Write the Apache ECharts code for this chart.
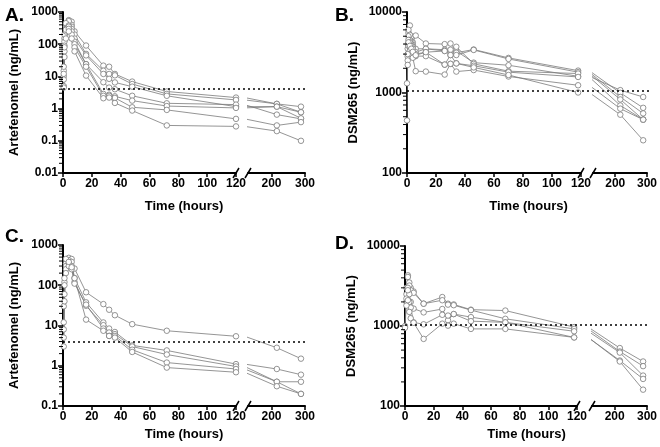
<!DOCTYPE html>
<html>
<head>
<meta charset="utf-8">
<script src="https://cdn.jsdelivr.net/npm/echarts@6.0.0/dist/echarts.min.js"></script>
<style>
html,body{margin:0;padding:0;background:#fff;}
#chart{width:660px;height:447px;}
</style>
</head>
<body>
<div id="chart"></div>
<script>
// sampling times (hours)
var timesA = [0.5, 1, 2, 4, 6, 8, 16, 28, 32, 36, 48, 72, 120, 216, 288];
var timesC = [0.5, 1, 2, 4, 6, 8, 16, 28, 32, 36, 48, 72, 120, 216, 288];
var timesB = [0, 0.5, 1, 2, 3, 4, 6, 13, 26, 30, 34, 46, 70, 118, 216, 288];
var timesD = [0, 1, 2, 3, 4, 6, 13, 26, 30, 34, 46, 70, 118, 216, 288];

// A. artefenomel, one row per subject (ng/mL)
var artA = [
  [15, 150, 420, 560, 500, 250, 91, 21.6, 20, 11.9, 6.9, 3.4, 2.2, 1.4, 1.15],
  [10, 120, 350, 480, 400, 200, 50, 15, 11.9, 10.8, 5.8, 2.86, 1.86, 1.4, 0.77],
  [5, 90, 300, 520, 350, 150, 45, 11.9, 8.4, 6.5, 4.8, 2.5, 1.15, 1.15, 0.77],
  [20, 200, 450, 380, 300, 120, 24, 6.6, 4.5, 4.0, 2.5, 1.46, 1.33, 0.65, 0.48],
  [8, 60, 250, 350, 250, 100, 24, 2.86, 2.7, 2.4, 1.77, 1.2, 1.05, 1.15, 0.5],
  [12, 80, 280, 300, 200, 80, 20, 2.5, 2.5, 2.15, 1.1, 0.91, 0.48, 0.3, 0.38],
  [4.5, 40, 150, 250, 150, 60, 10.6, 2.1, 2.2, 1.5, 0.87, 0.3, 0.28, 0.2, 0.1]
];
// B. DSM265
var dsmB = [
  [450, 3000, 5500, 6800, 5000, 4200, 5100, 4060, 3990, 4060, 3280, 2350, 2180, 1590, 1070, 880],
  [1300, 4000, 6000, 5200, 4300, 3900, 3490, 3490, 3400, 3220, 3120, 3420, 2690, 1870, 990, 645],
  [null, 3500, 5000, 4500, 4000, 3700, 3170, 3490, 3280, 2920, 2920, 3380, 2610, 1790, 880, 550],
  [null, 2800, 4500, 4200, 3800, 3500, 3000, 3170, 3280, 3400, 3700, 2270, 1840, 1720, 820, 460],
  [null, 2500, 4000, 3600, 3300, 3100, 2830, 2830, 2220, 2270, 2300, 2150, 1790, 1560, 690, 460],
  [null, 2200, 3800, 3300, 3000, 2700, 1840, 1820, 1670, 2270, 1820, 1900, 1580, 1230, 630, 460],
  [null, 3000, 4200, 3800, 3500, 3200, 2900, 3170, 2220, 2920, 2300, 2050, 1650, 1000, 530, 255]
];
// C. artefenomel
var artC = [
  [30, 120, 350, 480, 450, 260, 67, 34, 24.6, 18, 10.8, 7.4, 5.4, 2.8, 1.5],
  [8, 100, 300, 420, 380, 150, 37.6, 11.9, 8.4, 6.9, 3.2, 2.4, 1.1, 0.83, 0.6],
  [5, 60, 250, 350, 300, 120, 31, 10.2, 6.7, 6.1, 3.0, 1.9, 0.96, 0.4, 0.4],
  [3, 40, 200, 300, 250, 110, 33, 8.4, 5.5, 5.5, 2.5, 1.2, 0.83, 0.4, 0.2],
  [12, 150, 450, 380, 280, 150, 14, 7.4, 5.5, 5.0, 2.2, 0.9, 0.69, 0.31, 0.2]
];
// D. DSM265
var dsmD = [
  [1000, 3000, 4300, 3500, 3000, 2700, 1900, 2300, 1900, 1860, 1600, 1560, 970, 530, 360],
  [null, 2500, 4100, 3200, 2800, 2600, 1900, 2100, 1850, 1820, 1580, 1230, 920, 480, 315],
  [950, 2000, 3000, 2500, 2000, 1650, 1480, 1630, 1180, 1410, 1290, 1110, 860, 465, 240],
  [null, 2200, 2800, 2000, 1700, 1110, 1050, 1380, 1350, 1410, 1150, 1110, 720, 370, 218],
  [null, 1800, 2100, 1500, 1250, 1100, 690, 1070, 1010, 1070, 920, 920, 720, 360, 160]
];

var xTicks1 = [0, 20, 40, 60, 80, 100, 120];
var xTicks2 = [200, 300];
var lloqArt = 4;     // dotted reference line
var lloqDsm = 1050;

var FONT = '"Liberation Sans", Arial, sans-serif';
var GREY = '#7a7a7a';

var option = {
  animation: false,
  backgroundColor: '#fff',
  title: [], grid: [], xAxis: [], yAxis: [], series: [], graphic: []
};

function addPanel(p, times, rows) {
  var g = option.grid.length;
  option.grid.push({left: p.left1, top: p.top, width: p.w1, height: p.h});
  option.grid.push({left: p.left2, top: p.top, width: p.w2, height: p.h});
  option.grid.push({left: p.left1, top: p.top, width: p.left2 + p.w2 - p.left1, height: p.h});

  var axLine = {show: true, lineStyle: {color: '#000', width: 2}};
  var axTick = {show: true, length: 4, lineStyle: {color: '#000', width: 1.5}};
  var axLab = {color: '#000', fontSize: 12, fontWeight: 'bold', fontFamily: FONT, margin: 5};

  option.xAxis.push({gridIndex: g, type: 'value', min: 0, max: 120, interval: 20,
    axisLine: axLine, axisTick: axTick, axisLabel: axLab, splitLine: {show: false}});
  option.xAxis.push({gridIndex: g + 1, type: 'value', min: 130, max: 300,
    axisLine: axLine,
    axisTick: {show: true, length: 4, lineStyle: {color: '#000', width: 1.5}, customValues: xTicks2},
    axisLabel: Object.assign({customValues: xTicks2}, axLab), splitLine: {show: false}});
  option.xAxis.push({gridIndex: g + 2, type: 'value', min: 0, max: 1,
    axisLine: {show: false}, axisTick: {show: false}, axisLabel: {show: false}, splitLine: {show: false},
    name: 'Time (hours)', nameLocation: 'middle', nameGap: p.xGap,
    nameTextStyle: {color: '#000', fontSize: 13, fontWeight: 'bold', fontFamily: FONT}});

  option.yAxis.push({gridIndex: g, type: 'log', min: p.ymin, max: p.ymax,
    axisLine: axLine, axisTick: {show: true, length: 5, lineStyle: {color: '#000', width: 1.5}},
    axisLabel: Object.assign({formatter: function (v) { return String(+(+v).toPrecision(3)); }}, axLab),
    splitLine: {show: false},
    name: p.yName, nameLocation: 'middle', nameGap: p.nameGap,
    nameTextStyle: {color: '#000', fontSize: 13, fontWeight: 'bold', fontFamily: FONT}});
  option.yAxis.push({gridIndex: g + 1, type: 'log', min: p.ymin, max: p.ymax, show: false});
  option.yAxis.push({gridIndex: g + 2, type: 'log', min: p.ymin, max: p.ymax, show: false});

  // minor log ticks on the y axis (2..9 x 10^k)
  var minor = [];
  for (var d = Math.round(Math.log10(p.ymin)); d < Math.round(Math.log10(p.ymax)); d++) {
    for (var m = 2; m <= 9; m++) minor.push([0, +(m * Math.pow(10, d)).toPrecision(3)]);
  }
  option.series.push({type: 'custom', xAxisIndex: g, yAxisIndex: g, silent: true, clip: false, z: 5,
    encode: {x: 0, y: 1},
    data: minor,
    renderItem: function (params, api) {
      var c = api.coord([api.value(0), api.value(1)]);
      return {type: 'line', shape: {x1: c[0] - 4, y1: c[1], x2: c[0], y2: c[1]},
        style: {stroke: '#000', lineWidth: 1}};
    }});

  rows.forEach(function (row) {
    var s1 = [], s2 = [];
    row.forEach(function (v, i) {
      if (v == null) return;
      if (times[i] <= 120) s1.push([times[i], v]);
      if (times[i] >= 100) s2.push([times[i], v]);
    });
    var base = {type: 'line', symbol: 'circle', symbolSize: 5.5, clip: true, z: 3,
      lineStyle: {color: GREY, width: 0.8},
      itemStyle: {color: '#fff', borderColor: GREY, borderWidth: 0.8}};
    option.series.push(Object.assign({xAxisIndex: g, yAxisIndex: g, data: s1}, base));
    option.series.push(Object.assign({xAxisIndex: g + 1, yAxisIndex: g + 1, data: s2.filter(function (d, i, a) {
      return d[0] >= 130 || (a[i + 1] && a[i + 1][0] >= 130);
    })}, base));
  });

  // dotted reference line across the whole panel
  option.series.push({type: 'line', xAxisIndex: g + 2, yAxisIndex: g + 2, data: [],
    markLine: {silent: true, symbol: 'none', label: {show: false},
      lineStyle: {type: [2, 3], color: '#000', width: 1.5},
      data: [[{coord: [0, p.lloq]}, {coord: [1, p.lloq]}]]}});

  // axis break marks
  var yb = p.top + p.h;
  [p.left1 + p.w1, p.left2].forEach(function (xb) {
    option.graphic.push({type: 'line', shape: {x1: xb - 3, y1: yb + 5, x2: xb + 3, y2: yb - 5},
      style: {stroke: '#000', lineWidth: 1.5}});
  });

  option.title.push({text: p.letter, left: p.letterX, top: p.letterY,
    textStyle: {color: '#000', fontSize: 19, fontWeight: 'bold', fontFamily: FONT}});
}

addPanel({left1: 63, w1: 173, left2: 248, w2: 57, top: 12, h: 161, ymin: 0.01, ymax: 1000, xGap: 27,
  lloq: lloqArt, yName: 'Artefenomel (ng/mL)', nameGap: 42, letter: 'A.', letterX: 0, letterY: 1}, timesA, artA);
addPanel({left1: 407, w1: 174, left2: 593, w2: 57, top: 12, h: 161, ymin: 100, ymax: 10000, xGap: 27,
  lloq: lloqDsm, yName: 'DSM265 (ng/mL)', nameGap: 47, letter: 'B.', letterX: 330, letterY: 1}, timesB, dsmB);
addPanel({left1: 63, w1: 173, left2: 248, w2: 57, top: 245, h: 161, ymin: 0.1, ymax: 1000, xGap: 22,
  lloq: lloqArt, yName: 'Artefenomel (ng/mL)', nameGap: 42, letter: 'C.', letterX: 0, letterY: 222}, timesC, artC);
addPanel({left1: 405, w1: 172, left2: 592, w2: 56, top: 246, h: 160, ymin: 100, ymax: 10000, xGap: 22,
  lloq: lloqDsm, yName: 'DSM265 (ng/mL)', nameGap: 47, letter: 'D.', letterX: 330, letterY: 229}, timesD, dsmD);

var chart = echarts.init(document.getElementById('chart'));
chart.setOption(option);
</script>
</body>
</html>
